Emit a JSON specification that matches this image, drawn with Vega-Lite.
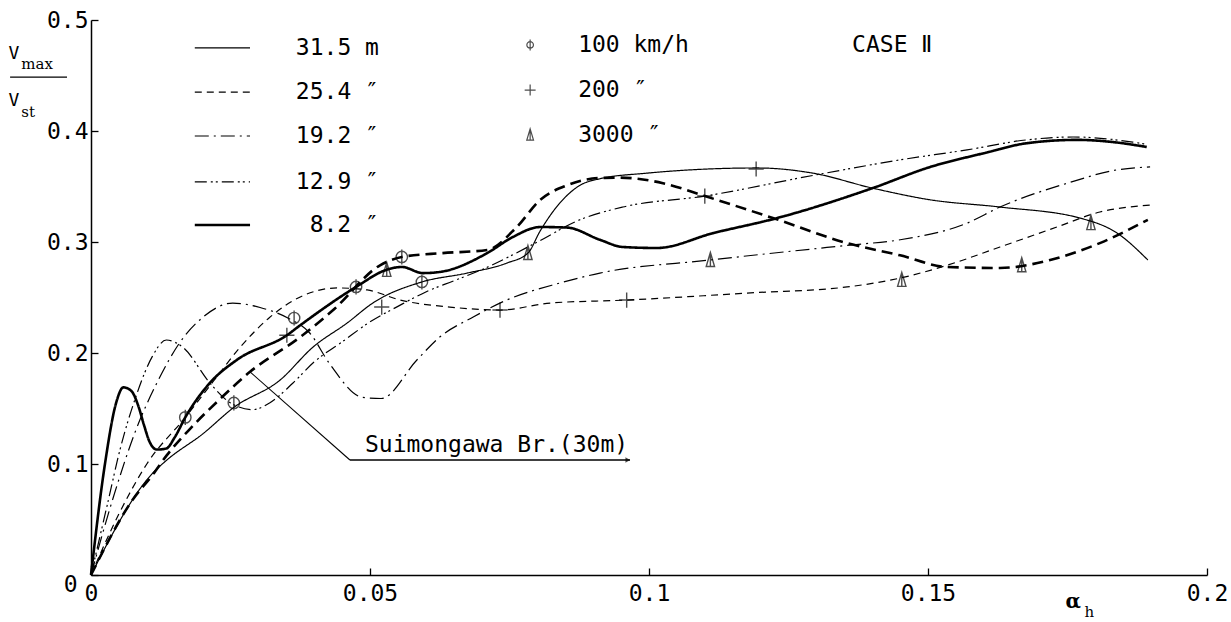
{
  "$schema": "https://vega.github.io/schema/vega-lite/v6.json",
  "width": 1116,
  "height": 555,
  "autosize": "none",
  "padding": {"left": 91, "top": 20, "right": 24, "bottom": 47},
  "background": "white",
  "config": {"view": {"stroke": null}},
  "datasets": {
    "curves": [
      {"s": "31.5", "x": 0, "y": 0}, {"s": "31.5", "x": 0.0111, "y": 0.092}, {"s": "31.5", "x": 0.0136, "y": 0.1036}, {"s": "31.5", "x": 0.02, "y": 0.127}, {"s": "31.5", "x": 0.0256, "y": 0.151}, {"s": "31.5", "x": 0.0339, "y": 0.1757}, {"s": "31.5", "x": 0.0398, "y": 0.2054}, {"s": "31.5", "x": 0.0459, "y": 0.227}, {"s": "31.5", "x": 0.0505, "y": 0.245}, {"s": "31.5", "x": 0.0593, "y": 0.264}, {"s": "31.5", "x": 0.0674, "y": 0.272}, {"s": "31.5", "x": 0.0745, "y": 0.281}, {"s": "31.5", "x": 0.0783, "y": 0.29}, {"s": "31.5", "x": 0.0805, "y": 0.31}, {"s": "31.5", "x": 0.084, "y": 0.335}, {"s": "31.5", "x": 0.0876, "y": 0.351}, {"s": "31.5", "x": 0.0912, "y": 0.357}, {"s": "31.5", "x": 0.0996, "y": 0.362}, {"s": "31.5", "x": 0.1194, "y": 0.3667}, {"s": "31.5", "x": 0.1294, "y": 0.362}, {"s": "31.5", "x": 0.14, "y": 0.3486}, {"s": "31.5", "x": 0.1504, "y": 0.338}, {"s": "31.5", "x": 0.1629, "y": 0.3315}, {"s": "31.5", "x": 0.1772, "y": 0.3216}, {"s": "31.5", "x": 0.1839, "y": 0.308}, {"s": "31.5", "x": 0.1894, "y": 0.2838},
      {"s": "25.4", "x": 0, "y": 0}, {"s": "25.4", "x": 0.005, "y": 0.055}, {"s": "25.4", "x": 0.01, "y": 0.1}, {"s": "25.4", "x": 0.0169, "y": 0.142}, {"s": "25.4", "x": 0.022, "y": 0.175}, {"s": "25.4", "x": 0.0267, "y": 0.205}, {"s": "25.4", "x": 0.032, "y": 0.232}, {"s": "25.4", "x": 0.0375, "y": 0.2505}, {"s": "25.4", "x": 0.0441, "y": 0.2586}, {"s": "25.4", "x": 0.0495, "y": 0.2568}, {"s": "25.4", "x": 0.0554, "y": 0.2477}, {"s": "25.4", "x": 0.0643, "y": 0.2414}, {"s": "25.4", "x": 0.0733, "y": 0.2387}, {"s": "25.4", "x": 0.0823, "y": 0.245}, {"s": "25.4", "x": 0.096, "y": 0.2477}, {"s": "25.4", "x": 0.1176, "y": 0.254}, {"s": "25.4", "x": 0.1355, "y": 0.2595}, {"s": "25.4", "x": 0.145, "y": 0.2675}, {"s": "25.4", "x": 0.1534, "y": 0.279}, {"s": "25.4", "x": 0.1629, "y": 0.2955}, {"s": "25.4", "x": 0.1731, "y": 0.3135}, {"s": "25.4", "x": 0.1808, "y": 0.327}, {"s": "25.4", "x": 0.1898, "y": 0.3333},
      {"s": "19.2", "x": 0, "y": 0}, {"s": "19.2", "x": 0.004, "y": 0.07}, {"s": "19.2", "x": 0.008, "y": 0.13}, {"s": "19.2", "x": 0.012, "y": 0.175}, {"s": "19.2", "x": 0.016, "y": 0.21}, {"s": "19.2", "x": 0.02, "y": 0.232}, {"s": "19.2", "x": 0.0254, "y": 0.245}, {"s": "19.2", "x": 0.0303, "y": 0.241}, {"s": "19.2", "x": 0.0351, "y": 0.232}, {"s": "19.2", "x": 0.0392, "y": 0.218}, {"s": "19.2", "x": 0.0428, "y": 0.19}, {"s": "19.2", "x": 0.0487, "y": 0.16}, {"s": "19.2", "x": 0.052, "y": 0.159}, {"s": "19.2", "x": 0.0584, "y": 0.1937}, {"s": "19.2", "x": 0.0625, "y": 0.2144}, {"s": "19.2", "x": 0.0685, "y": 0.2324}, {"s": "19.2", "x": 0.0745, "y": 0.2477}, {"s": "19.2", "x": 0.084, "y": 0.263}, {"s": "19.2", "x": 0.0912, "y": 0.272}, {"s": "19.2", "x": 0.111, "y": 0.2838}, {"s": "19.2", "x": 0.1355, "y": 0.297}, {"s": "19.2", "x": 0.145, "y": 0.302}, {"s": "19.2", "x": 0.157, "y": 0.317}, {"s": "19.2", "x": 0.1629, "y": 0.3315}, {"s": "19.2", "x": 0.175, "y": 0.353}, {"s": "19.2", "x": 0.1839, "y": 0.365}, {"s": "19.2", "x": 0.1898, "y": 0.3676},
      {"s": "12.9", "x": 0, "y": 0}, {"s": "12.9", "x": 0.003, "y": 0.065}, {"s": "12.9", "x": 0.0052, "y": 0.113}, {"s": "12.9", "x": 0.008, "y": 0.16}, {"s": "12.9", "x": 0.011, "y": 0.197}, {"s": "12.9", "x": 0.0135, "y": 0.2117}, {"s": "12.9", "x": 0.0165, "y": 0.205}, {"s": "12.9", "x": 0.0213, "y": 0.173}, {"s": "12.9", "x": 0.025, "y": 0.155}, {"s": "12.9", "x": 0.029, "y": 0.149}, {"s": "12.9", "x": 0.032, "y": 0.155}, {"s": "12.9", "x": 0.0362, "y": 0.173}, {"s": "12.9", "x": 0.04, "y": 0.192}, {"s": "12.9", "x": 0.045, "y": 0.21}, {"s": "12.9", "x": 0.05, "y": 0.228}, {"s": "12.9", "x": 0.055, "y": 0.242}, {"s": "12.9", "x": 0.06, "y": 0.255}, {"s": "12.9", "x": 0.065, "y": 0.265}, {"s": "12.9", "x": 0.07, "y": 0.275}, {"s": "12.9", "x": 0.075, "y": 0.287}, {"s": "12.9", "x": 0.08, "y": 0.3}, {"s": "12.9", "x": 0.0876, "y": 0.32}, {"s": "12.9", "x": 0.0953, "y": 0.3315}, {"s": "12.9", "x": 0.11, "y": 0.3414}, {"s": "12.9", "x": 0.1294, "y": 0.36}, {"s": "12.9", "x": 0.145, "y": 0.374}, {"s": "12.9", "x": 0.157, "y": 0.383}, {"s": "12.9", "x": 0.1677, "y": 0.392}, {"s": "12.9", "x": 0.176, "y": 0.3946}, {"s": "12.9", "x": 0.1867, "y": 0.39}, {"s": "12.9", "x": 0.1892, "y": 0.388},
      {"s": "8.2", "x": 0, "y": 0}, {"s": "8.2", "x": 0.0025, "y": 0.1}, {"s": "8.2", "x": 0.0045, "y": 0.155}, {"s": "8.2", "x": 0.0058, "y": 0.169}, {"s": "8.2", "x": 0.0072, "y": 0.166}, {"s": "8.2", "x": 0.0085, "y": 0.152}, {"s": "8.2", "x": 0.0095, "y": 0.135}, {"s": "8.2", "x": 0.0105, "y": 0.12}, {"s": "8.2", "x": 0.0118, "y": 0.113}, {"s": "8.2", "x": 0.0135, "y": 0.114}, {"s": "8.2", "x": 0.015, "y": 0.124}, {"s": "8.2", "x": 0.0169, "y": 0.142}, {"s": "8.2", "x": 0.0213, "y": 0.173}, {"s": "8.2", "x": 0.0262, "y": 0.194}, {"s": "8.2", "x": 0.0351, "y": 0.216}, {"s": "8.2", "x": 0.0375, "y": 0.225}, {"s": "8.2", "x": 0.0475, "y": 0.2595}, {"s": "8.2", "x": 0.053, "y": 0.275}, {"s": "8.2", "x": 0.0557, "y": 0.2775}, {"s": "8.2", "x": 0.0595, "y": 0.272}, {"s": "8.2", "x": 0.0625, "y": 0.273}, {"s": "8.2", "x": 0.071, "y": 0.29}, {"s": "8.2", "x": 0.0756, "y": 0.3045}, {"s": "8.2", "x": 0.0805, "y": 0.3135}, {"s": "8.2", "x": 0.0853, "y": 0.313}, {"s": "8.2", "x": 0.0912, "y": 0.302}, {"s": "8.2", "x": 0.0953, "y": 0.2955}, {"s": "8.2", "x": 0.1014, "y": 0.2946}, {"s": "8.2", "x": 0.1115, "y": 0.308}, {"s": "8.2", "x": 0.123, "y": 0.3216}, {"s": "8.2", "x": 0.1401, "y": 0.3486}, {"s": "8.2", "x": 0.1504, "y": 0.3676}, {"s": "8.2", "x": 0.16, "y": 0.38}, {"s": "8.2", "x": 0.1677, "y": 0.389}, {"s": "8.2", "x": 0.1767, "y": 0.392}, {"s": "8.2", "x": 0.1832, "y": 0.39}, {"s": "8.2", "x": 0.1892, "y": 0.3856},
      {"s": "Suimongawa", "x": 0, "y": 0}, {"s": "Suimongawa", "x": 0.0075, "y": 0.068}, {"s": "Suimongawa", "x": 0.011, "y": 0.09}, {"s": "Suimongawa", "x": 0.0136, "y": 0.108}, {"s": "Suimongawa", "x": 0.018, "y": 0.133}, {"s": "Suimongawa", "x": 0.023, "y": 0.158}, {"s": "Suimongawa", "x": 0.0285, "y": 0.183}, {"s": "Suimongawa", "x": 0.0375, "y": 0.2144}, {"s": "Suimongawa", "x": 0.0434, "y": 0.2387}, {"s": "Suimongawa", "x": 0.0518, "y": 0.279}, {"s": "Suimongawa", "x": 0.0557, "y": 0.2865}, {"s": "Suimongawa", "x": 0.063, "y": 0.29}, {"s": "Suimongawa", "x": 0.071, "y": 0.2928}, {"s": "Suimongawa", "x": 0.0763, "y": 0.3135}, {"s": "Suimongawa", "x": 0.0805, "y": 0.338}, {"s": "Suimongawa", "x": 0.0853, "y": 0.351}, {"s": "Suimongawa", "x": 0.0912, "y": 0.3577}, {"s": "Suimongawa", "x": 0.0948, "y": 0.358}, {"s": "Suimongawa", "x": 0.1025, "y": 0.353}, {"s": "Suimongawa", "x": 0.11, "y": 0.3414}, {"s": "Suimongawa", "x": 0.1222, "y": 0.3216}, {"s": "Suimongawa", "x": 0.1355, "y": 0.299}, {"s": "Suimongawa", "x": 0.145, "y": 0.288}, {"s": "Suimongawa", "x": 0.1534, "y": 0.2775}, {"s": "Suimongawa", "x": 0.1629, "y": 0.2766}, {"s": "Suimongawa", "x": 0.1719, "y": 0.2838}, {"s": "Suimongawa", "x": 0.1808, "y": 0.299}, {"s": "Suimongawa", "x": 0.1894, "y": 0.32}
    ],
    "markers": [
      {"speed": "100", "x": 0.0169, "y": 0.142}, {"speed": "100", "x": 0.0256, "y": 0.155}, {"speed": "100", "x": 0.0364, "y": 0.2315}, {"speed": "100", "x": 0.0475, "y": 0.2595}, {"speed": "100", "x": 0.0557, "y": 0.2865}, {"speed": "100", "x": 0.0593, "y": 0.264},
      {"speed": "200", "x": 0.0351, "y": 0.216}, {"speed": "200", "x": 0.0521, "y": 0.2414}, {"speed": "200", "x": 0.0733, "y": 0.2387}, {"speed": "200", "x": 0.096, "y": 0.2477}, {"speed": "200", "x": 0.11, "y": 0.3414}, {"speed": "200", "x": 0.1192, "y": 0.3658},
      {"speed": "3000", "x": 0.053, "y": 0.2748}, {"speed": "3000", "x": 0.0783, "y": 0.29}, {"speed": "3000", "x": 0.111, "y": 0.2838}, {"speed": "3000", "x": 0.1453, "y": 0.2658}, {"speed": "3000", "x": 0.1668, "y": 0.279}, {"speed": "3000", "x": 0.1792, "y": 0.317}
    ]
  },
  "layer": [
    {
      "data": {"name": "curves"},
      "transform": [{"filter": "datum.s !== '8.2' && datum.s !== 'Suimongawa'"}],
      "mark": {"type": "line", "interpolate": "monotone", "color": "#000", "strokeWidth": 1.2},
      "encoding": {
        "x": {"field": "x", "type": "quantitative", "scale": {"domain": [0, 0.2], "nice": false},
          "axis": {"values": [0, 0.05, 0.1, 0.15, 0.2], "format": "~g", "title": null, "grid": false, "domainColor": "#000", "domainWidth": 1.5, "tickColor": "#000", "tickSize": -7, "tickWidth": 1.3, "labelFont": "DejaVu Sans Mono", "labelFontSize": 23, "labelColor": "#000", "labelPadding": 14, "labelFlush": false, "labelOverlap": false}},
        "y": {"field": "y", "type": "quantitative", "scale": {"domain": [0, 0.5], "nice": false},
          "axis": {"values": [0, 0.1, 0.2, 0.3, 0.4, 0.5], "format": "~g", "title": null, "grid": false, "domainColor": "#000", "domainWidth": 1.5, "tickColor": "#000", "tickSize": -7, "tickWidth": 1.3, "labelFont": "DejaVu Sans Mono", "labelFontSize": 23, "labelColor": "#000", "labelPadding": {"condition": {"test": "datum.value === 0", "value": 21}, "value": 10}, "labelOffset": {"condition": {"test": "datum.value === 0", "value": 9}, "value": 0}, "labelOverlap": false}},
        "strokeDash": {"field": "s", "type": "nominal", "legend": null, "scale": {"domain": ["31.5", "25.4", "19.2", "12.9", "8.2", "Suimongawa"], "range": [[1, 0], [7, 5], [14, 5, 2, 5], [12, 4, 2, 3, 2, 4], [1, 0], [11, 6]]}}
      }
    },
    {
      "data": {"name": "curves"},
      "transform": [{"filter": "datum.s === '8.2' || datum.s === 'Suimongawa'"}],
      "mark": {"type": "line", "interpolate": "monotone", "color": "#000", "strokeWidth": 2.6},
      "encoding": {
        "x": {"field": "x", "type": "quantitative"},
        "y": {"field": "y", "type": "quantitative"},
        "strokeDash": {"field": "s", "type": "nominal", "legend": null}
      }
    },
    {
      "data": {"name": "markers"},
      "mark": {"type": "point", "color": "#000", "filled": false, "strokeWidth": 1.4, "size": 230},
      "encoding": {
        "x": {"field": "x", "type": "quantitative"},
        "y": {"field": "y", "type": "quantitative"},
        "shape": {"field": "speed", "type": "nominal", "legend": null, "scale": {"domain": ["100", "200", "3000"], "range": ["M-0.75,0A0.75,0.75 0 1,1 0.75,0A0.75,0.75 0 1,1 -0.75,0M0,-1L0,1", "M-1,0L1,0M0,-1L0,1", "M0,-1L0.55,0.85L-0.55,0.85ZM0,-1L0,0.85"]}}
      }
    },
    {"data": {"values": [{}]}, "mark": {"type": "rule", "color": "#000", "strokeWidth": 1.2}, "encoding": {"x": {"datum": 0.0186}, "x2": {"datum": 0.0285}, "y": {"datum": 0.4748}}},
    {"data": {"values": [{}]}, "mark": {"type": "rule", "color": "#000", "strokeWidth": 1.2, "strokeDash": [7, 5]}, "encoding": {"x": {"datum": 0.0186}, "x2": {"datum": 0.0285}, "y": {"datum": 0.4351}}},
    {"data": {"values": [{}]}, "mark": {"type": "rule", "color": "#000", "strokeWidth": 1.2, "strokeDash": [14, 5, 2, 5]}, "encoding": {"x": {"datum": 0.0186}, "x2": {"datum": 0.0285}, "y": {"datum": 0.3955}}},
    {"data": {"values": [{}]}, "mark": {"type": "rule", "color": "#000", "strokeWidth": 1.2, "strokeDash": [12, 4, 2, 3, 2, 4]}, "encoding": {"x": {"datum": 0.0186}, "x2": {"datum": 0.0285}, "y": {"datum": 0.3541}}},
    {"data": {"values": [{}]}, "mark": {"type": "rule", "color": "#000", "strokeWidth": 2.6}, "encoding": {"x": {"datum": 0.0186}, "x2": {"datum": 0.0285}, "y": {"datum": 0.3153}}},
    {"data": {"values": [{"t": "31.5 m", "k": 0.4748}, {"t": "25.4 ″", "k": 0.4351}, {"t": "19.2 ″", "k": 0.3955}, {"t": "12.9 ″", "k": 0.3541}, {"t": "8.2 ″", "k": 0.3153}]},
      "mark": {"type": "text", "align": "right", "baseline": "middle", "font": "DejaVu Sans Mono", "fontSize": 23, "color": "#000"},
      "encoding": {"x": {"datum": 0.0516}, "y": {"field": "k", "type": "quantitative"}, "text": {"field": "t"}}},
    {"data": {"values": [{"speed": "100"}]}, "mark": {"type": "point", "color": "#000", "filled": false, "strokeWidth": 1.2, "size": 120, "shape": "M-0.6,0A0.6,0.6 0 1,1 0.6,0A0.6,0.6 0 1,1 -0.6,0M0,-1L0,1"}, "encoding": {"x": {"datum": 0.0787}, "y": {"datum": 0.4775}}},
    {"data": {"values": [{"speed": "200"}]}, "mark": {"type": "point", "color": "#000", "filled": false, "strokeWidth": 1.2, "size": 120, "shape": "M-1,0L1,0M0,-1L0,1"}, "encoding": {"x": {"datum": 0.0787}, "y": {"datum": 0.4369}}},
    {"data": {"values": [{"speed": "3000"}]}, "mark": {"type": "point", "color": "#000", "filled": false, "strokeWidth": 1.2, "size": 150, "shape": "M0,-1L0.55,0.85L-0.55,0.85ZM0,-1L0,0.85"}, "encoding": {"x": {"datum": 0.0787}, "y": {"datum": 0.3964}}},
    {"data": {"values": [{"t": "100 km/h", "k": 0.4775}, {"t": "200  ″", "k": 0.4369}, {"t": "3000 ″", "k": 0.3964}]},
      "mark": {"type": "text", "align": "left", "baseline": "middle", "font": "DejaVu Sans Mono", "fontSize": 23, "color": "#000"},
      "encoding": {"x": {"datum": 0.0873}, "y": {"field": "k", "type": "quantitative"}, "text": {"field": "t"}}},
    {"data": {"values": [{}]}, "mark": {"type": "text", "align": "left", "baseline": "middle", "font": "DejaVu Sans Mono", "fontSize": 23, "color": "#000", "text": "CASE Ⅱ"}, "encoding": {"x": {"datum": 0.1364}, "y": {"datum": 0.4775}}},
    {"data": {"values": [{}]}, "mark": {"type": "text", "align": "center", "baseline": "middle", "font": "DejaVu Sans Mono", "fontSize": 18, "color": "#000", "text": "V"}, "encoding": {"x": {"datum": -0.0138}, "y": {"datum": 0.4694}}},
    {"data": {"values": [{}]}, "mark": {"type": "text", "align": "left", "baseline": "middle", "font": "DejaVu Serif", "fontSize": 15, "color": "#000", "text": "max"}, "encoding": {"x": {"datum": -0.0125}, "y": {"datum": 0.4604}}},
    {"data": {"values": [{}]}, "mark": {"type": "rule", "color": "#000", "strokeWidth": 1.3}, "encoding": {"x": {"datum": -0.0145}, "x2": {"datum": -0.0043}, "y": {"datum": 0.4486}}},
    {"data": {"values": [{}]}, "mark": {"type": "text", "align": "center", "baseline": "middle", "font": "DejaVu Sans Mono", "fontSize": 18, "color": "#000", "text": "V"}, "encoding": {"x": {"datum": -0.0138}, "y": {"datum": 0.427}}},
    {"data": {"values": [{}]}, "mark": {"type": "text", "align": "left", "baseline": "middle", "font": "DejaVu Serif", "fontSize": 15, "color": "#000", "text": "st"}, "encoding": {"x": {"datum": -0.0125}, "y": {"datum": 0.4171}}},
    {"data": {"values": [{}]}, "mark": {"type": "text", "align": "center", "baseline": "middle", "font": "DejaVu Serif", "fontWeight": "bold", "fontSize": 20, "color": "#000", "text": "α"}, "encoding": {"x": {"datum": 0.176}, "y": {"datum": -0.0243}}},
    {"data": {"values": [{}]}, "mark": {"type": "text", "align": "center", "baseline": "middle", "font": "DejaVu Serif", "fontSize": 15, "color": "#000", "text": "h"}, "encoding": {"x": {"datum": 0.1789}, "y": {"datum": -0.0333}}},
    {"data": {"values": [{}]}, "mark": {"type": "rule", "color": "#000", "strokeWidth": 1.1}, "encoding": {"x": {"datum": 0.0285}, "y": {"datum": 0.183}, "x2": {"datum": 0.0464}, "y2": {"datum": 0.1036}}},
    {"data": {"values": [{}]}, "mark": {"type": "rule", "color": "#000", "strokeWidth": 1.3}, "encoding": {"x": {"datum": 0.0464}, "x2": {"datum": 0.0966}, "y": {"datum": 0.1036}}},
    {"data": {"values": [{}]}, "mark": {"type": "point", "shape": "triangle-right", "filled": true, "color": "#000", "size": 30}, "encoding": {"x": {"datum": 0.0962}, "y": {"datum": 0.1036}}},
    {"data": {"values": [{}]}, "mark": {"type": "text", "align": "left", "baseline": "alphabetic", "font": "DejaVu Sans Mono", "fontSize": 23, "color": "#000", "text": "Suimongawa Br.(30m)"}, "encoding": {"x": {"datum": 0.0491}, "y": {"datum": 0.1108}}}
  ]
}
